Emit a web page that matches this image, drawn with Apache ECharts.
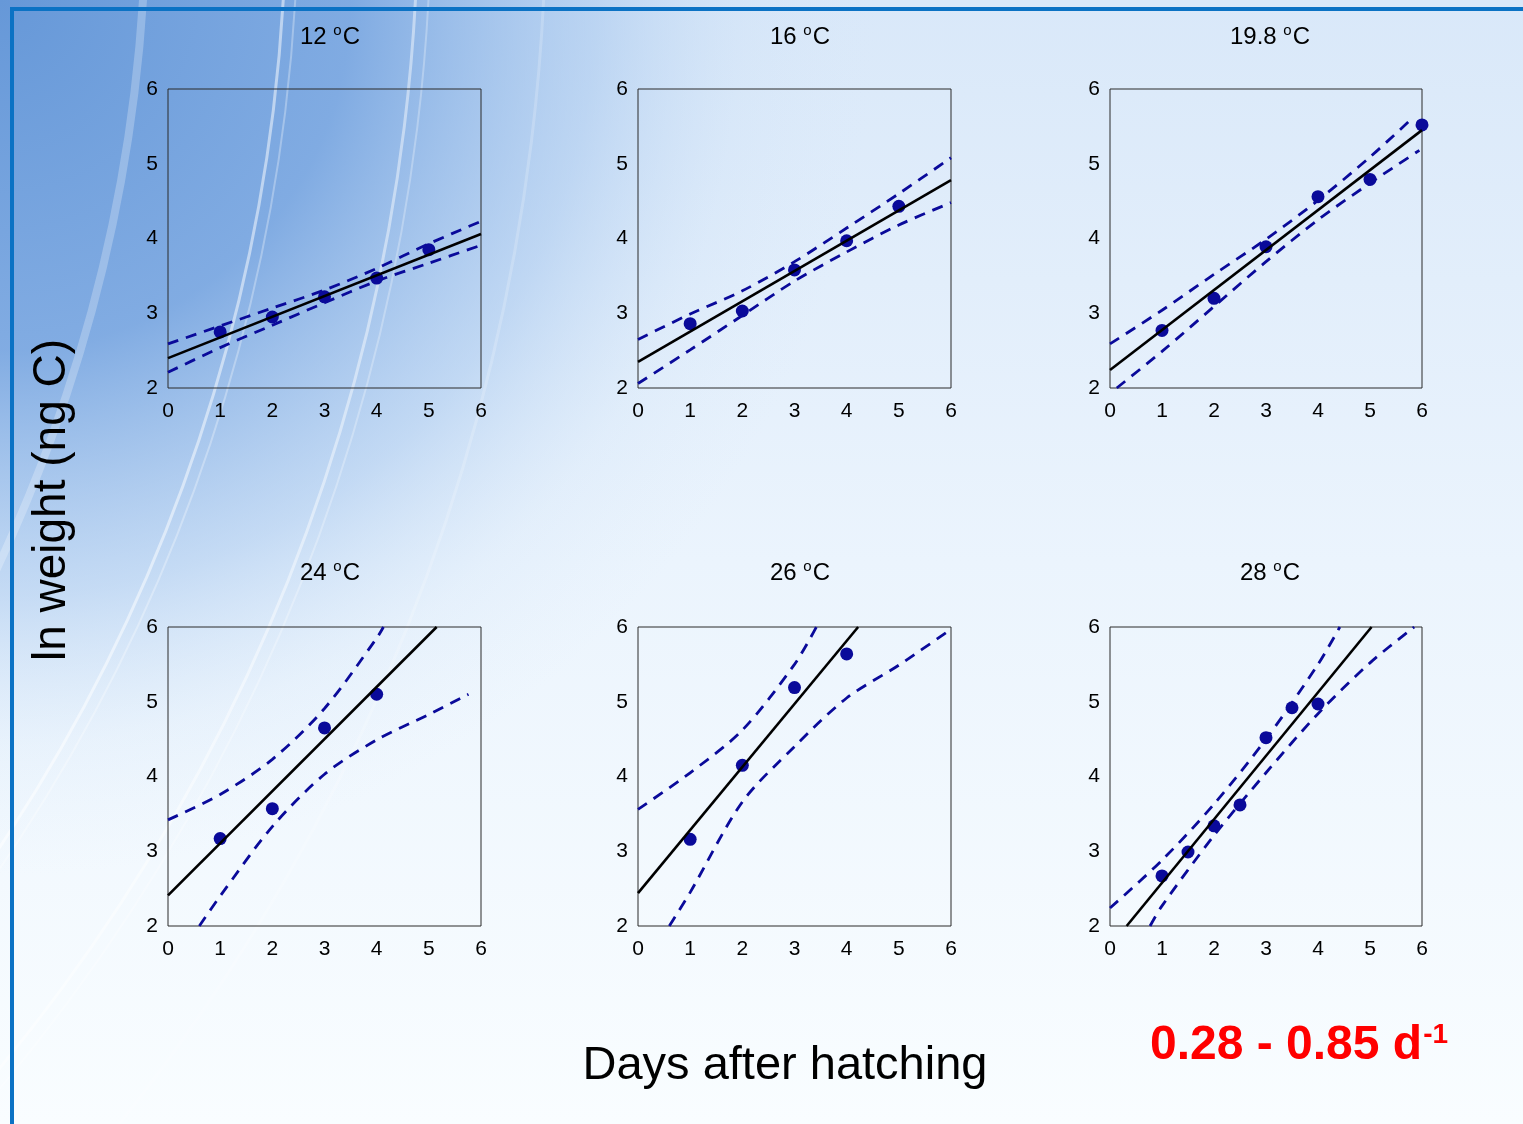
<!DOCTYPE html>
<html>
<head>
<meta charset="utf-8">
<script src="https://cdn.jsdelivr.net/npm/echarts@6/dist/echarts.min.js"></script>
<style>
  html, body { margin: 0; padding: 0; background: #ffffff; }
  #chart { width: 1523px; height: 1124px; }
</style>
</head>
<body>
<div id="chart"></div>
<script>
// Temperature of each panel (°C)
const temps = ['12', '16', '19.8', '24', '26', '28'];

// Axis ticks shared by all panels
const xTicks = [0, 1, 2, 3, 4, 5, 6];
const yTicks = [2, 3, 4, 5, 6];

// Observed ln weight (ng C) against days after hatching
const obs12 = [[1, 2.75], [2, 2.95], [3, 3.22], [4, 3.47], [5, 3.85]];
const obs16 = [[1, 2.86], [2, 3.03], [3, 3.58], [4, 3.97], [5, 4.43]];
const obs198 = [[1, 2.77], [2, 3.20], [3, 3.89], [4, 4.56], [5, 4.79], [6, 5.52]];
const obs24 = [[1, 3.17], [2, 3.57], [3, 4.65], [4, 5.10]];
const obs26 = [[1, 3.16], [2, 4.15], [3, 5.19], [4, 5.64]];
const obs28 = [[1, 2.67], [1.5, 2.99], [2, 3.34], [2.5, 3.62], [3, 4.52], [3.5, 4.92], [4, 4.97]];

// Fitted regression lines (end points)
const fit12 = [[0, 2.40], [6, 4.06]];
const fit16 = [[0, 2.35], [6, 4.78]];
const fit198 = [[0, 2.24], [6, 5.45]];
const fit24 = [[0, 2.41], [5.15, 6.0]];
const fit26 = [[0, 2.44], [4.22, 6.0]];
const fit28 = [[0.32, 2.0], [5.03, 6.0]];

// 95% confidence bands, upper
const up12 = [[0, 2.59], [1, 2.83], [2, 3.07], [3, 3.31], [4, 3.60], [5, 3.93], [6, 4.23]];
const up16 = [[0, 2.65], [1, 2.99], [2, 3.30], [3, 3.69], [4, 4.14], [5, 4.60], [6, 5.08]];
const up198 = [[0, 2.59], [1, 3.04], [2, 3.52], [3, 3.99], [4, 4.51], [5, 5.09], [5.8, 5.60]];
const up24 = [[0, 3.42], [1, 3.76], [2, 4.23], [3, 4.91], [4, 5.85], [4.13, 6.0]];
const up26 = [[0, 3.56], [1, 4.05], [2, 4.62], [3, 5.50], [3.42, 6.0]];
const up28 = [[0, 2.24], [1, 2.88], [2, 3.63], [3, 4.50], [4, 5.50], [4.42, 6.0]];

// 95% confidence bands, lower
const lo12 = [[0, 2.21], [1, 2.54], [2, 2.84], [3, 3.14], [4, 3.43], [5, 3.67], [6, 3.91]];
const lo16 = [[0, 2.06], [1, 2.51], [2, 2.97], [3, 3.43], [4, 3.82], [5, 4.18], [6, 4.48]];
const lo198 = [[0.13, 2.0], [1, 2.49], [2, 3.09], [3, 3.69], [4, 4.25], [5, 4.74], [5.95, 5.18]];
const lo24 = [[0.6, 2.0], [1, 2.40], [2, 3.33], [3, 4.03], [4, 4.49], [5, 4.83], [5.76, 5.10]];
const lo26 = [[0.6, 2.0], [1, 2.45], [2, 3.66], [3, 4.40], [4, 5.05], [5, 5.49], [6, 5.97]];
const lo28 = [[0.77, 2.0], [1, 2.27], [2, 3.21], [3, 4.05], [4, 4.84], [5, 5.52], [5.85, 6.0]];

const observed = [obs12, obs16, obs198, obs24, obs26, obs28];
const fits = [fit12, fit16, fit198, fit24, fit26, fit28];
const uppers = [up12, up16, up198, up24, up26, up28];
const lowers = [lo12, lo16, lo198, lo24, lo26, lo28];

// Panel placement
const colLeft = [168, 638, 1110];
const rowTop = [89, 627];
const plotW = 313, plotH = 299;
const titleX = [330, 800, 1270];
const titleY = [37, 573];

const FONT = '"Liberation Sans", Arial, sans-serif';
const NAVY = '#0a0a9a';

const grids = [], xAxes = [], yAxes = [], series = [], graphics = [];

// slide background: pale sky wash with a blue glow in the upper-left corner
graphics.push({
  type: 'rect', z: -10, silent: true,
  shape: { x: 0, y: 0, width: 1523, height: 1124 },
  style: {
    fill: {
      type: 'linear', x: 0, y: 0, x2: 0, y2: 1,
      colorStops: [
        { offset: 0, color: '#d9e8f9' },
        { offset: 0.5, color: '#ebf4fd' },
        { offset: 1, color: '#f9fdff' }
      ]
    }
  }
});
graphics.push({
  type: 'rect', z: -10, silent: true,
  shape: { x: 0, y: 0, width: 1523, height: 1124 },
  style: {
    fill: {
      type: 'radial', x: 0, y: 0, r: 0.78,
      colorStops: [
        { offset: 0, color: 'rgba(102,152,216,1)' },
        { offset: 0.4, color: 'rgba(112,160,222,0.85)' },
        { offset: 0.68, color: 'rgba(150,188,234,0.45)' },
        { offset: 0.85, color: 'rgba(190,215,243,0.15)' },
        { offset: 1, color: 'rgba(210,228,247,0)' }
      ]
    }
  }
});
// light streaks sweeping across the corner
[[1700, 0.5, 3], [1712, 0.3, 2], [1832, 0.45, 3], [1845, 0.28, 2], [1960, 0.2, 3], [1560, 0.25, 8]].forEach(function (a) {
  graphics.push({
    type: 'arc', z: -9, silent: true,
    shape: { cx: -1414, cy: -97, r: a[0], startAngle: -0.1, endAngle: 0.8 },
    style: { stroke: 'rgba(255,255,255,' + a[1] + ')', lineWidth: a[2], fill: null }
  });
});
// slide frame
graphics.push({
  type: 'rect', z: -8, silent: true,
  shape: { x: 10, y: 7, width: 1513, height: 4 },
  style: { fill: '#0b72c4' }
});
graphics.push({
  type: 'rect', z: -8, silent: true,
  shape: { x: 10, y: 7, width: 4, height: 1117 },
  style: { fill: '#0b72c4' }
});

for (let i = 0; i < 6; i++) {
  const col = i % 3, row = Math.floor(i / 3);
  grids.push({
    left: colLeft[col], top: rowTop[row], width: col === 2 ? plotW - 1 : plotW, height: plotH,
    show: true, borderColor: '#2a2a2a', borderWidth: 1, backgroundColor: 'transparent',
    containLabel: false
  });
  xAxes.push({
    type: 'value', gridIndex: i, min: xTicks[0], max: xTicks[xTicks.length - 1], interval: 1,
    axisLine: { show: false }, axisTick: { show: false }, splitLine: { show: false },
    axisLabel: { color: '#000', fontSize: 21, fontFamily: FONT, margin: 13 }
  });
  yAxes.push({
    type: 'value', gridIndex: i, min: yTicks[0], max: yTicks[yTicks.length - 1], interval: 1,
    axisLine: { show: false }, axisTick: { show: false }, splitLine: { show: false },
    axisLabel: { color: '#000', fontSize: 21, fontFamily: FONT, margin: 10 }
  });
  series.push({
    type: 'scatter', xAxisIndex: i, yAxisIndex: i, data: observed[i],
    symbol: 'circle', symbolSize: 13, itemStyle: { color: NAVY, opacity: 1 }, z: 3, silent: true
  });
  [uppers[i], lowers[i]].forEach(function (band) {
    series.push({
      type: 'line', xAxisIndex: i, yAxisIndex: i, data: band, smooth: 0.3,
      showSymbol: false, clip: true, silent: true, z: 4,
      lineStyle: { color: NAVY, width: 2.8, type: [11, 8] }
    });
  });
  series.push({
    type: 'line', xAxisIndex: i, yAxisIndex: i, data: fits[i], showSymbol: false,
    clip: true, silent: true, z: 5,
    lineStyle: { color: '#000', width: 2.6 }
  });
  graphics.push({
    type: 'text', z: 10, x: titleX[col], y: titleY[row],
    style: {
      text: '{n|' + temps[i] + ' }{s|o}{n|C}',
      textAlign: 'center', textVerticalAlign: 'middle',
      rich: {
        n: { fontSize: 24, fontFamily: FONT, fill: '#000', color: '#000' },
        s: { fontSize: 15, fontFamily: FONT, fill: '#000', color: '#000', padding: [0, 1, 12, 0] }
      }
    }
  });
}

// axis titles and growth-rate range
graphics.push({
  type: 'text', z: 10, x: 52, y: 500, rotation: Math.PI / 2,
  style: {
    text: 'ln weight (ng C)', font: '46px ' + FONT, fill: '#000',
    textAlign: 'center', textVerticalAlign: 'middle'
  }
});
graphics.push({
  type: 'text', z: 10, x: 785, y: 1066,
  style: {
    text: 'Days after hatching', font: '47px ' + FONT, fill: '#000',
    textAlign: 'center', textVerticalAlign: 'middle'
  }
});
graphics.push({
  type: 'text', z: 10, x: 1150, y: 1046,
  style: {
    text: '{r|0.28 - 0.85 d}{s|-1}',
    textAlign: 'left', textVerticalAlign: 'middle',
    rich: {
      r: { fontSize: 48, fontWeight: 'bold', fontFamily: FONT, fill: '#ff0000', color: '#ff0000' },
      s: { fontSize: 28, fontWeight: 'bold', fontFamily: FONT, fill: '#ff0000', color: '#ff0000', padding: [0, 0, 22, 1] }
    }
  }
});

const chart = echarts.init(document.getElementById('chart'), null, { renderer: 'canvas' });
chart.setOption({
  animation: false,
  backgroundColor: 'transparent',
  grid: grids,
  xAxis: xAxes,
  yAxis: yAxes,
  series: series,
  graphic: { elements: graphics }
});
</script>
</body>
</html>
